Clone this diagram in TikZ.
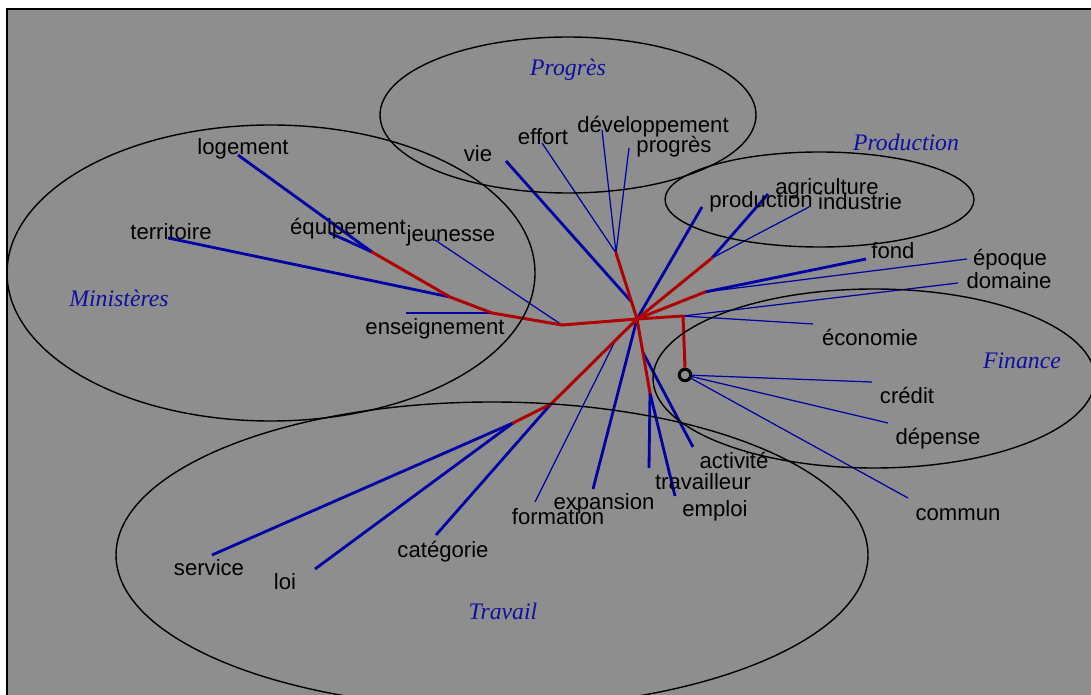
\documentclass[tikz,border=0pt]{standalone}
\usepackage{fontspec}
\setmainfont{Liberation Sans}
\newfontfamily\grpfont{Liberation Serif}
\usetikzlibrary{calc}
\definecolor{bgray}{RGB}{142,142,142}
\definecolor{tblue}{RGB}{0,0,165}
\definecolor{tred}{RGB}{175,0,0}
\definecolor{gblue}{RGB}{15,15,160}

\begin{document}
\begin{tikzpicture}[x=0.02cm,y=-0.02cm,
  inner/.style={tred,line width=1.7pt,line cap=round,line join=round},
  leafthick/.style={tblue,line width=1.6pt},
  leafthin/.style={tblue,line width=0.7pt},
  cluster/.style={black,line width=0.8pt},
  word/.style={inner sep=0pt,font=\fontsize{12.6}{14}\selectfont,text height=9pt,text depth=0.2pt},
  group/.style={inner sep=0pt,text=gblue,font=\grpfont\itshape\fontsize{13.5}{15}\selectfont,text height=9pt,text depth=0.6pt}]

\useasboundingbox (0,0) rectangle (1091,695);
\clip (0,0) rectangle (1091,695);
\fill[white] (0,0) rectangle (1091,695);
\fill[bgray] (7,9) rectangle (1100,700);
\draw[line width=1pt] (7,700) -- (7,9) -- (1100,9);

% --- tree junctions ---
\coordinate (H)  at (637,319);
\coordinate (M1) at (562,325);
\coordinate (M2) at (492,313);
\coordinate (M3) at (450,297);
\coordinate (M4) at (372,252);
\coordinate (G1) at (616,253);
\coordinate (P1) at (712,258);
\coordinate (P2) at (705,292);
\coordinate (F1) at (683,316);
\coordinate (T1) at (551,404);
\coordinate (T2) at (513,423);
\coordinate (T3) at (650,393);
\coordinate (V)  at ($(H)!0.26!(G1)$);
\coordinate (Fo) at ($(H)!0.25!(T1)$);
\coordinate (A)  at ($(H)!0.45!(T3)$);
\node (O) at (685,375) [circle,draw=black,line width=1.7pt,inner sep=0pt,minimum size=0.23cm] {};

% --- leaf ends ---
\coordinate (logement-e)      at (238,155);
\coordinate (equipement-e)    at (330,233);
\coordinate (territoire-e)    at (168,238);
\coordinate (enseignement-e)  at (406,313);
\coordinate (jeunesse-e)      at (435,240);
\coordinate (vie-e)           at (506,161);
\coordinate (effort-e)        at (542,143);
\coordinate (developpement-e) at (602,130);
\coordinate (progres-e)       at (629,148);
\coordinate (production-e)    at (702,207);
\coordinate (agriculture-e)   at (768,194);
\coordinate (industrie-e)     at (809,207);
\coordinate (fond-e)          at (866,259);
\coordinate (epoque-e)        at (967,259);
\coordinate (domaine-e)       at (958,283);
\coordinate (economie-e)      at (813,324);
\coordinate (credit-e)        at (872,382);
\coordinate (depense-e)       at (888,423);
\coordinate (commun-e)        at (908,498);
\coordinate (activite-e)      at (693,447);
\coordinate (travailleur-e)   at (649,468);
\coordinate (emploi-e)        at (675,496);
\coordinate (expansion-e)     at (593,489);
\coordinate (formation-e)     at (535,502);
\coordinate (categorie-e)     at (436,535);
\coordinate (service-e)       at (212,555);
\coordinate (loi-e)           at (315,569);

% --- leaf edges ---
\draw[leafthick] (M4) -- (logement-e);
\draw[leafthick] (M4) -- (equipement-e);
\draw[leafthick] (M3) -- (territoire-e);
\draw[leafthick] (M2) -- (enseignement-e);
\draw[leafthin]  (M1) -- (jeunesse-e);
\draw[leafthick] (V)  -- (vie-e);
\draw[leafthin]  (G1) -- (effort-e);
\draw[leafthin]  (G1) -- (developpement-e);
\draw[leafthin]  (G1) -- (progres-e);
\draw[leafthick] (H)  -- (production-e);
\draw[leafthick] (P1) -- (agriculture-e);
\draw[leafthin]  (P1) -- (industrie-e);
\draw[leafthick] (P2) -- (fond-e);
\draw[leafthin]  (P2) -- (epoque-e);
\draw[leafthin]  (F1) -- (domaine-e);
\draw[leafthin]  (F1) -- (economie-e);
\draw[leafthin]  (O)  -- (credit-e);
\draw[leafthin]  (O)  -- (depense-e);
\draw[leafthin]  (O)  -- (commun-e);
\draw[leafthick] (A)  -- (activite-e);
\draw[leafthick] (T3) -- (travailleur-e);
\draw[leafthick] (T3) -- (emploi-e);
\draw[leafthick] (H)  -- (expansion-e);
\draw[leafthin]  (Fo) -- (formation-e);
\draw[leafthick] (T1) -- (categorie-e);
\draw[leafthick] (T2) -- (service-e);
\draw[leafthick] (T2) -- (loi-e);

% --- inner edges ---
\draw[inner] (H) -- (M1) -- (M2) -- (M3) -- (M4);
\draw[inner] (H) -- (G1);
\draw[inner] (H) -- (P1);
\draw[inner] (H) -- (P2);
\draw[inner,line cap=butt] (H) -- (F1) -- (O.north);
\draw[inner] (H) -- (T1) -- (T2);
\draw[inner] (H) -- (T3);

% --- clusters ---
\draw[cluster] (568,115) ellipse [x radius=188, y radius=78];
\draw[cluster] (271,273) ellipse [x radius=264, y radius=148];
\draw[cluster] (819.5,199.5) ellipse [x radius=154.5, y radius=47.5];
\draw[cluster] (874,378.5) ellipse [x radius=221, y radius=89.5];
\draw[cluster] (492,555) ellipse [x radius=376, y radius=153];

\node[group] (g-progres)    at (568,68)  {Progrès};
\node[group] (g-ministeres) at (119,299) {Ministères};
\node[group] (g-production) at (906,143) {Production};
\node[group] (g-finance)    at (1022,361) {Finance};
\node[group] (g-travail)    at (503,612) {Travail};

% --- leaf labels ---
\node[word] (logement)      at (243,147) {logement};
\node[word] (territoire)    at (171,232) {territoire};
\node[word] (equipement)    at (348,227) {équipement};
\node[word] (jeunesse)      at (451,234) {jeunesse};
\node[word] (enseignement)  at (435,327) {enseignement};
\node[word] (vie)           at (478,154) {vie};
\node[word] (effort)        at (543,137) {effort};
\node[word] (developpement) at (653,125) {développement};
\node[word] (progres)       at (674,145) {progrès};
\node[word] (production)    at (761,200) {production};
\node[word] (agriculture)   at (827,187) {agriculture};
\node[word] (industrie)     at (860,202) {industrie};
\node[word] (fond)          at (893,251) {fond};
\node[word] (epoque)        at (1010,258) {époque};
\node[word] (domaine)       at (1009,281) {domaine};
\node[word] (economie)      at (870,338) {économie};
\node[word] (credit)        at (907,396) {crédit};
\node[word] (depense)       at (938,437) {dépense};
\node[word] (commun)        at (958,513) {commun};
\node[word] (activite)      at (734,461) {activité};
\node[word] (travailleur)   at (703,482) {travailleur};
\node[word] (emploi)        at (715,509) {emploi};
\node[word] (expansion)     at (604,502) {expansion};
\node[word] (formation)     at (558,517) {formation};
\node[word] (categorie)     at (443,550) {catégorie};
\node[word] (service)       at (209,568) {service};
\node[word] (loi)           at (285,582) {loi};
\end{tikzpicture}
\end{document}
